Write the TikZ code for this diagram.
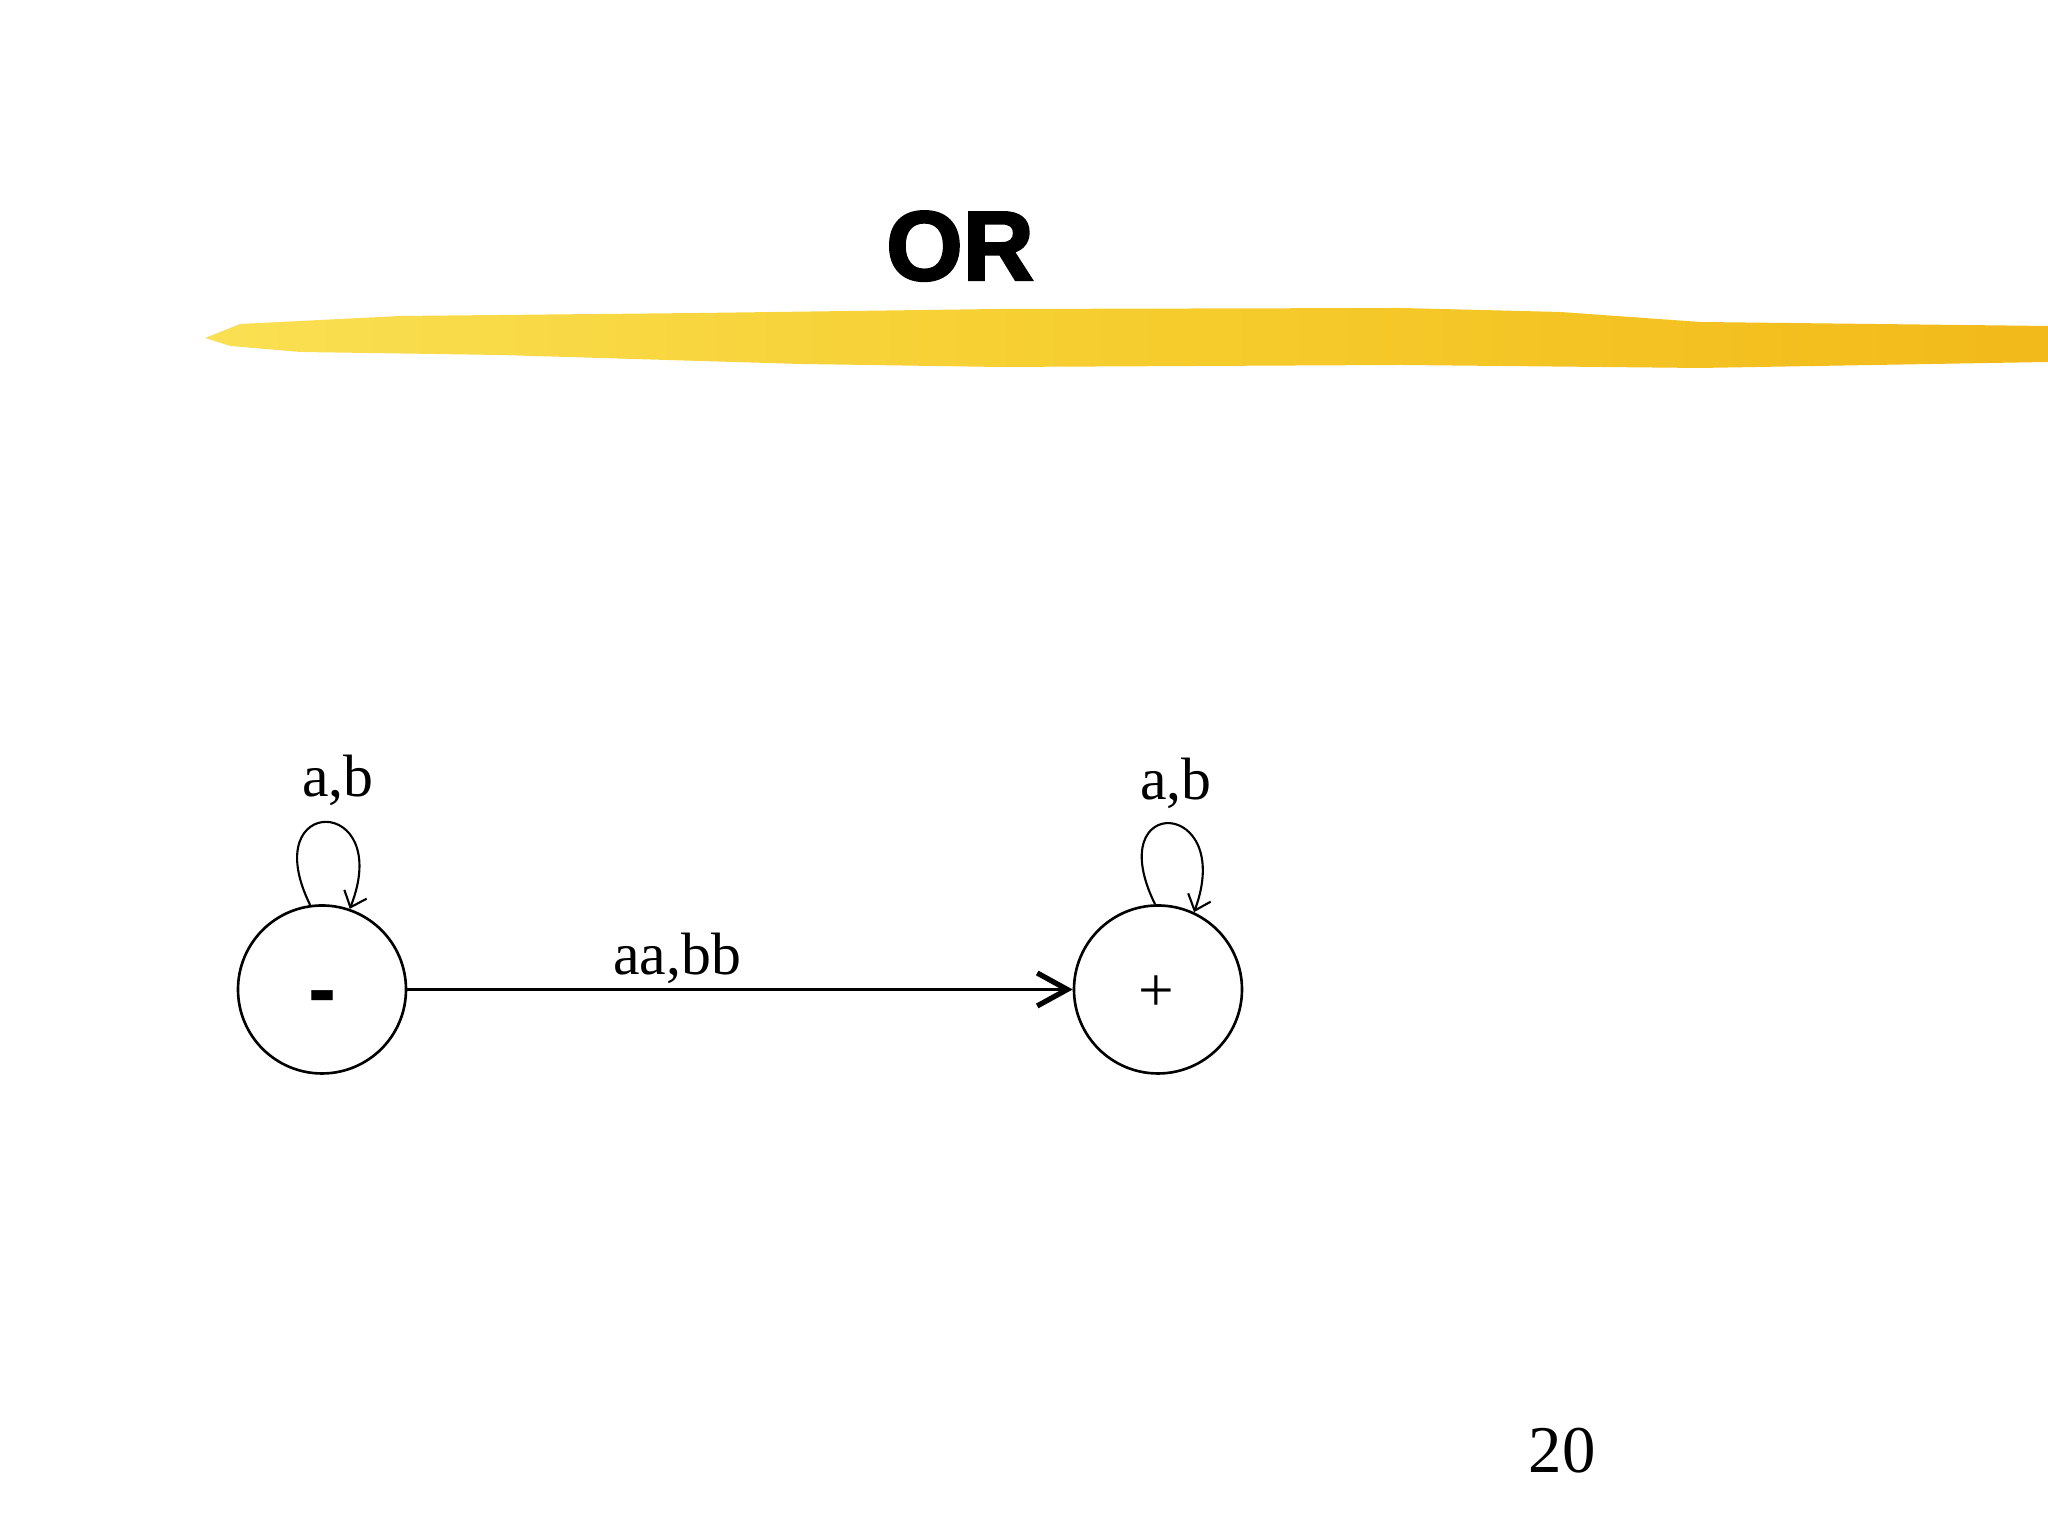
\documentclass[tikz,border=0pt]{standalone}
\usepackage{fontspec}
\setmainfont{Liberation Serif}
\setsansfont{Liberation Sans}
\newfontfamily\titlefont[FakeBold=2.5]{Liberation Sans}
\usetikzlibrary{arrows.meta}
\definecolor{brushlight}{HTML}{FAE053}
\definecolor{brushmid}{HTML}{F6CD2E}
\definecolor{brushdark}{HTML}{F2BA1A}
\tikzset{
  state/.style={draw,circle,line width=0.75pt,minimum size=1.68cm,inner sep=0pt},
  lab/.style={anchor=base,inner sep=0pt,font=\fontsize{17}{17}\selectfont},
  loopline/.style={line width=0.6pt,-{Straight Barb[length=1.4mm,width=2.4mm,line width=0.6pt]}},
  mainline/.style={line width=0.6pt,-{Straight Barb[length=3mm,width=3.3mm,line width=1.5pt]}}
}
\begin{document}
\begin{tikzpicture}
  \useasboundingbox (0,0) rectangle (20.48,15.36);
  % title and brush stroke
  \node[anchor=base,inner sep=0pt] (title) at (9.60,12.56) {\titlefont\bfseries\fontsize{28}{28}\selectfont OR};
  \shade[left color=brushlight,right color=brushdark,middle color=brushmid,shading angle=90]
    (2.05,11.98) -- (2.40,12.12) -- (4.00,12.20) -- (7.00,12.23) -- (10.00,12.27)
    -- (14.00,12.28) -- (15.60,12.24) -- (17.00,12.14) -- (20.48,12.10)
    -- (20.48,11.74) -- (17.00,11.68) -- (14.00,11.71) -- (10.00,11.69)
    -- (8.00,11.72) -- (5.00,11.81) -- (3.00,11.84) -- (2.30,11.90) -- cycle;
  % states
  \node[state] (minus) at (3.22,5.465) {};
  \node[state] (plus) at (11.58,5.465) {};
  \node[anchor=base,inner sep=0pt] (minussign) at (3.225,5.18) {\sffamily\bfseries\fontsize{24}{24}\selectfont -};
  \node[inner sep=0pt] (plussign) at (11.56,5.42) {\fontsize{18}{18}\selectfont +};
  % transitions
  \draw[mainline] (minus) -- (plus);
  \node[lab] (word) at (6.77,5.61) {aa,bb};
  \draw[loopline] (minus.98) .. controls +(-0.55,1.12) and +(0.45,1.14) .. (minus.71);
  \draw[loopline] (plus.92) .. controls +(-0.55,1.12) and +(0.42,1.14) .. (plus.65);
  \node[lab] (minusloop) at (3.38,7.39) {a,b};
  \node[lab] (plusloop) at (11.76,7.36) {a,b};
  % page number
  \node[anchor=base,inner sep=0pt] (pagenum) at (15.62,0.63) {\fontsize{19}{19}\selectfont 20};
\end{tikzpicture}
\end{document}
